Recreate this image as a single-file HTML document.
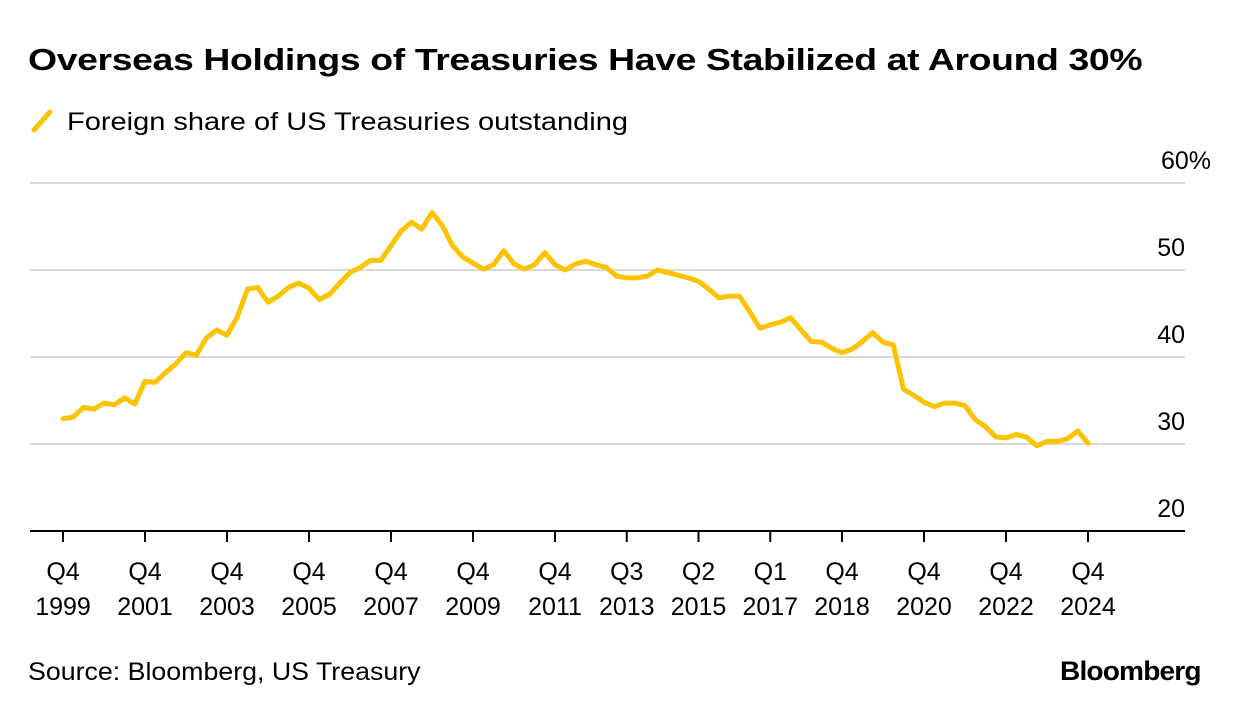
<!DOCTYPE html>
<html><head><meta charset="utf-8"><style>
body{margin:0;background:#fff;font-family:"Liberation Sans",sans-serif;color:#000}
#wrap{position:relative;width:1240px;height:716px;overflow:hidden}
.t{position:absolute;white-space:nowrap;transform-origin:0 0}
</style></head><body>
<div id="wrap">
<div class="t" style="left:28px;top:42px;font-size:31px;font-weight:bold;letter-spacing:-0.3px;transform:scaleX(1.205)">Overseas Holdings of Treasuries Have Stabilized at Around 30%</div>
<div class="t" style="left:30px;top:108px;font-size:25px">
<svg width="26" height="26" style="vertical-align:-4px"><line x1="4" y1="22" x2="20" y2="4" stroke="#fcc300" stroke-width="5" stroke-linecap="round"/></svg>
<span style="margin-left:4px;display:inline-block;transform:scaleX(1.16);transform-origin:0 0">Foreign share of US Treasuries outstanding</span></div>
<svg id="plot" width="1240" height="716" style="position:absolute;left:0;top:0"></svg>
<div class="t" style="left:28px;top:658px;font-size:25px;transform:scaleX(1.07)">Source: Bloomberg, US Treasury</div>
<div class="t" style="left:1060px;top:656px;font-size:27px;font-weight:bold;letter-spacing:-0.8px;transform:scaleX(1.04)">Bloomberg</div>
</div>
<script>
const values=[32.9,33.1,34.2,34.0,34.7,34.5,35.3,34.6,37.2,37.1,38.2,39.2,40.5,40.2,42.2,43.1,42.5,44.6,47.8,48.0,46.3,47.0,48.0,48.5,47.9,46.6,47.2,48.5,49.7,50.3,51.1,51.1,52.8,54.5,55.5,54.7,56.6,55.1,52.8,51.5,50.8,50.1,50.6,52.2,50.7,50.1,50.6,52.0,50.6,50.0,50.7,51.0,50.6,50.3,49.3,49.1,49.1,49.3,50.0,49.7,49.4,49.1,48.7,47.8,46.8,47.0,47.0,45.2,43.3,43.7,44.0,44.5,43.1,41.8,41.7,41.0,40.5,40.9,41.8,42.8,41.7,41.4,36.3,35.6,34.8,34.3,34.7,34.7,34.4,32.8,32.0,30.8,30.7,31.1,30.8,29.8,30.3,30.3,30.6,31.5,30.1];
const tickIdx=[0,8,16,24,32,40,48,55,62,69,76,84,92,100];
const tickQ=["Q4","Q4","Q4","Q4","Q4","Q4","Q4","Q3","Q2","Q1","Q4","Q4","Q4","Q4"];
const tickYear=["1999","2001","2003","2005","2007","2009","2011","2013","2015","2017","2018","2020","2022","2024"];
const yTicks=[20,30,40,50,60];
const yLabels=["20","30","40","50","60%"];
const svg=document.getElementById('plot');
const NS='http://www.w3.org/2000/svg';
const x=i=>63+i*10.25;
const y=v=>444-(v-30)*8.7;
function mk(t,a){const e=document.createElementNS(NS,t);for(const k in a)e.setAttribute(k,a[k]);svg.appendChild(e);return e;}
yTicks.forEach((v,k)=>{
  if(v>20){const g=mk('line',{x1:30,x2:1185,y1:y(v),y2:y(v),stroke:'#d9d9d9','stroke-width':2});
  
  }
  const t=mk('text',{x:1185,y:y(v)-14,'text-anchor':'end','font-size':25,'font-family':'Liberation Sans, sans-serif'});
  t.textContent=yLabels[k];
  if(v===60)t.setAttribute('x',1211);
  
  
});
const ax=mk('line',{x1:30,x2:1185,y1:y(20),y2:y(20),stroke:'#000','stroke-width':2});


tickIdx.forEach((i,k)=>{
  const tk=mk('line',{x1:x(i),x2:x(i),y1:y(20),y2:y(20)+11,stroke:'#000','stroke-width':2});
  
  
  const t=mk('text',{x:x(i),y:580,'text-anchor':'middle','font-size':25,'font-family':'Liberation Sans, sans-serif'});
  t.textContent=tickQ[k];
  
  
  const t2=mk('text',{x:x(i),y:615,'text-anchor':'middle','font-size':25,'font-family':'Liberation Sans, sans-serif'});
  t2.textContent=tickYear[k];
  
  
});
const line=mk('polyline',{points:values.map((v,i)=>x(i)+','+y(v)).join(' '),fill:'none',stroke:'#fcc300','stroke-width':5,'stroke-linejoin':'round','stroke-linecap':'round'});


</script>
</body></html>
